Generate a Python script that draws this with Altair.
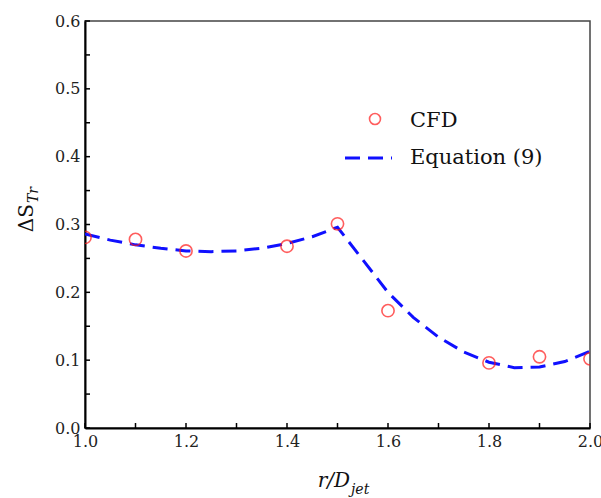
import altair as alt
import pandas as pd

# CFD data
cfd_x = [1.0, 1.1, 1.2, 1.4, 1.5, 1.6, 1.8, 1.9, 2.0]
cfd_y = [0.281, 0.278, 0.261, 0.268, 0.301, 0.173, 0.096, 0.105, 0.102]

# Equation (9) curve
eq_x = [1.0, 1.05, 1.1, 1.15, 1.2, 1.25, 1.3, 1.35, 1.4, 1.45, 1.5,
        1.55, 1.6, 1.65, 1.7, 1.75, 1.8, 1.85, 1.9, 1.95, 2.0]
eq_y = [0.286, 0.277, 0.270, 0.265, 0.261, 0.260, 0.261, 0.265, 0.272, 0.282, 0.296,
        0.248, 0.200, 0.163, 0.134, 0.112, 0.097, 0.089, 0.090, 0.098, 0.113]

x_ticks = [1.0, 1.1, 1.2, 1.3, 1.4, 1.5, 1.6, 1.7, 1.8, 1.9, 2.0]
x_labels = [1.0, 1.2, 1.4, 1.6, 1.8, 2.0]
y_ticks = [0.0, 0.05, 0.1, 0.15, 0.2, 0.25, 0.3, 0.35, 0.4, 0.45, 0.5, 0.55, 0.6]
y_labels = [0.0, 0.1, 0.2, 0.3, 0.4, 0.5, 0.6]

FONT = "DejaVu Serif"
W, H = 505, 407

cfd = pd.DataFrame({"x": cfd_x, "y": cfd_y})
eq = pd.DataFrame({"x": eq_x, "y": eq_y})
xt = pd.DataFrame({"x": x_ticks})
yt = pd.DataFrame({"y": y_ticks})

xscale = alt.Scale(domain=[1.0, 2.0], nice=False, zero=False)
yscale = alt.Scale(domain=[0.0, 0.6], nice=False, zero=False)

xaxis = alt.Axis(values=x_labels, format=".1f", title=None, grid=False, ticks=False,
                 domainColor="black", domainWidth=2, labelFont=FONT, labelFontSize=16,
                 labelColor="#222", labelPadding=5, labelFlush=False)
yaxis = alt.Axis(values=y_labels, format=".1f", title=None, grid=False, ticks=False,
                 domainColor="black", domainWidth=2, labelFont=FONT, labelFontSize=16,
                 labelColor="#222", labelPadding=5)

line = alt.Chart(eq).mark_line(color="#1010ff", strokeWidth=3, strokeDash=[15, 8], clip=True).encode(
    x=alt.X("x:Q", scale=xscale, axis=xaxis),
    y=alt.Y("y:Q", scale=yscale, axis=yaxis),
)

pts = alt.Chart(cfd).mark_point(shape="circle", filled=False, color="#ff1a1a", size=150,
                                strokeWidth=1.6, clip=True).encode(
    x=alt.X("x:Q", scale=xscale),
    y=alt.Y("y:Q", scale=yscale),
)

xtick = alt.Chart(xt).mark_rule(color="black", strokeWidth=1.5).encode(
    x=alt.X("x:Q", scale=xscale), y=alt.value(H), y2=alt.value(H - 5))
ytick = alt.Chart(yt).mark_rule(color="black", strokeWidth=1.5).encode(
    y=alt.Y("y:Q", scale=yscale), x=alt.value(0), x2=alt.value(5))

# legend
leg_pt = alt.Chart(pd.DataFrame({"a": [0]})).mark_point(
    shape="circle", filled=False, color="#ff1a1a", size=120, strokeWidth=1.6).encode(
    x=alt.value(375 - 85), y=alt.value(119 - 21))
leg_line = alt.Chart(pd.DataFrame({"a": [0]})).mark_rule(
    color="#1010ff", strokeWidth=3, strokeDash=[15, 8]).encode(
    x=alt.value(345 - 85), x2=alt.value(392 - 85), y=alt.value(158 - 21))
leg_t1 = alt.Chart(pd.DataFrame({"t": ["CFD"]})).mark_text(
    font=FONT, fontSize=21, align="left", baseline="alphabetic", color="#111").encode(
    text="t:N", x=alt.value(410 - 85), y=alt.value(127 - 21))
leg_t2 = alt.Chart(pd.DataFrame({"t": ["Equation (9)"]})).mark_text(
    font=FONT, fontSize=21, align="left", baseline="alphabetic", color="#111").encode(
    text="t:N", x=alt.value(410 - 85), y=alt.value(164 - 21))

# axis titles
xt1 = alt.Chart(pd.DataFrame({"t": ["r/D"]})).mark_text(
    font=FONT, fontSize=20, fontStyle="italic", align="right", baseline="alphabetic", color="#111").encode(
    text="t:N", x=alt.value(350 - 85), y=alt.value(487 - 21))
xt2 = alt.Chart(pd.DataFrame({"t": ["jet"]})).mark_text(
    font=FONT, fontSize=14, fontStyle="italic", align="left", baseline="alphabetic", color="#111").encode(
    text="t:N", x=alt.value(351 - 85), y=alt.value(494 - 21))
yt1 = alt.Chart(pd.DataFrame({"t": ["ΔS"]})).mark_text(
    font=FONT, fontSize=20, angle=270, align="right", baseline="alphabetic", color="#111").encode(
    text="t:N", x=alt.value(33 - 85), y=alt.value(204 - 21))
yt2 = alt.Chart(pd.DataFrame({"t": ["Tr"]})).mark_text(
    font=FONT, fontSize=14, fontStyle="italic", angle=270, align="left", baseline="alphabetic", color="#111").encode(
    text="t:N", x=alt.value(38 - 85), y=alt.value(203 - 21))

chart = alt.layer(line, pts, xtick, ytick, leg_pt, leg_line, leg_t1, leg_t2,
                  xt1, xt2, yt1, yt2).properties(
    width=W, height=H,
    autosize=alt.AutoSizeParams(type="none"),
    padding={"left": 85, "top": 21, "right": 11, "bottom": 70},
    background="white",
).configure_view(stroke="#444", strokeWidth=1.5)

chart.save("out.html", embed_options={"renderer": "svg", "actions": False})
